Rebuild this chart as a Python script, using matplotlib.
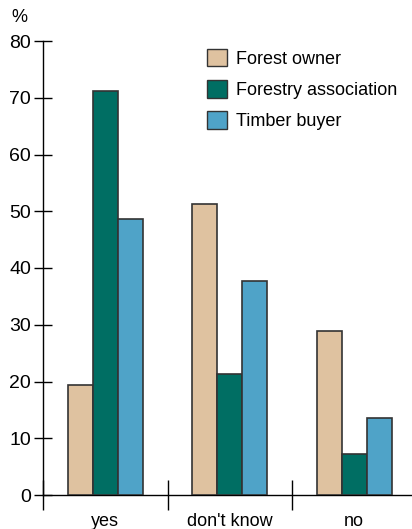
import numpy as np
import matplotlib.pyplot as plt
from matplotlib.patches import Patch

plt.rcParams['font.family'] = ['Liberation Sans', 'DejaVu Sans']

categories = ["yes", "don't know", "no"]
series = ["Forest owner", "Forestry association", "Timber buyer"]
forest_owner = [19.4, 51.3, 28.9]
forestry_assoc = [71.2, 21.3, 7.2]
timber_buyer = [48.6, 37.7, 13.6]
colors = ['#dfc2a0', '#006e63', '#4fa3c8']

W, H = 412, 529
fig = plt.figure(figsize=(W/100, H/100), dpi=100)
ax = fig.add_axes([43/W, 34/H, (W-43)/W, 454/H])

x = np.arange(len(categories)) + 0.5
bw = 0.2
for k, vals in enumerate([forest_owner, forestry_assoc, timber_buyer]):
	ax.bar(x + (k-1)*bw, vals, bw, color=colors[k], edgecolor='#333333', linewidth=1.2, zorder=3)

ax.set_xlim(0, (W-43)/124.5)
ax.set_ylim(0, 80)
ax.set_yticks(range(0, 81, 10))
ax.set_xticks([0, 1, 2])
ax.set_xticklabels([])
ax.set_xticks(x, minor=True)
ax.set_xticklabels(categories, minor=True, fontsize=13)
ax.tick_params(axis='x', which='major', direction='inout', length=21, width=1)
ax.tick_params(axis='x', which='minor', length=0, pad=13)
ax.tick_params(axis='y', direction='inout', length=13, width=1, labelsize=14, pad=2)
for s in ['top', 'right']:
	ax.spines[s].set_visible(False)
ax.spines['left'].set_linewidth(1)
ax.spines['bottom'].set_linewidth(1)

fig.text(11/W, 1-17/H, '%', fontsize=13, va='center', ha='left')

handles = [Patch(facecolor=colors[k], edgecolor='#333333', label=series[k]) for k in range(3)]
ax.legend(handles=handles, loc='upper left', bbox_to_anchor=(151/(W-43), 1.01), frameon=False,
	fontsize=13, handlelength=1.1, handleheight=1.1, handletextpad=0.55, labelspacing=0.68,
	borderpad=0.2)

fig.savefig('out.png', dpi=100)
